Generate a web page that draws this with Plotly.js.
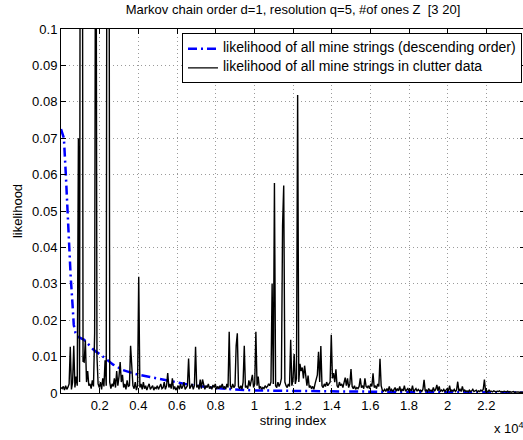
<!DOCTYPE html>
<html>
<head>
<meta charset="utf-8">
<script src="https://cdn.plot.ly/plotly-3.0.1.min.js"></script>
<style>
html,body{margin:0;padding:0;overflow:hidden;background:#fff;}
#chart{width:530px;height:440px;}
</style>
</head>
<body>
<div id="chart"></div>
<script>
// ---- data ----
const titleText = "Markov chain order d=1, resolution q=5, #of ones Z\u00a0\u00a0[3 20]";
const xTitle = "string index";
const yTitle = "likelihood";
const seriesNames = ["likelihood of all mine strings (descending order)", "likelihood of all mine strings in clutter data"];

// mine strings sorted in descending order (string index, likelihood)
const mineIdx = [0, 150, 250, 350, 500, 600, 660, 750, 850, 1200, 1700, 2200, 2700, 3200, 3800, 4600, 5500, 6700, 7600, 8600, 10000, 12000, 15000, 18000, 21000, 24000];
const mineVal = [0.0725, 0.070, 0.060, 0.047, 0.032, 0.024, 0.0187, 0.0165, 0.0155, 0.0146, 0.0118, 0.0099, 0.0078, 0.0063, 0.0053, 0.0044, 0.0034, 0.0022, 0.0016, 0.0011, 0.0007, 0.0005, 0.0004, 0.0003, 0.0002, 0.0001];

// clutter data likelihood, sampled every 60 string indices
const clutterStep = 60;
const clutterVal = [
0.0015,0.0012,0.0018,0.0008,0.0020,0.0010,0.0016,0.0025,0.0127,0.0010,0.0030,0.0130,0.0015,0.0045,0.0020,0.0700,0.0030,0.2500,0.2500,0.0087,
0.0085,0.0144,0.0030,0.0060,0.0020,0.0025,0.0012,0.0035,0.0018,0.0164,0.1800,0.0100,0.0025,0.0015,0.0030,0.0010,0.0040,0.0018,0.0090,0.0020,
0.2500,0.2500,0.0030,0.0012,0.0025,0.0018,0.0040,0.0015,0.0060,0.0020,0.0045,0.0085,0.0030,0.0050,0.0015,0.0025,0.0010,0.0035,0.0018,0.0020,
0.0130,0.0085,0.0020,0.0012,0.0030,0.0008,0.0020,0.0319,0.0015,0.0025,0.0010,0.0030,0.0012,0.0020,0.0008,0.0018,0.0025,0.0010,0.0015,0.0020,
0.0008,0.0015,0.0012,0.0020,0.0010,0.0018,0.0025,0.0012,0.0015,0.0030,0.0010,0.0020,0.0055,0.0015,0.0025,0.0012,0.0040,0.0010,0.0018,0.0008,
0.0015,0.0020,0.0010,0.0025,0.0012,0.0018,0.0030,0.0010,0.0015,0.0020,0.0095,0.0012,0.0018,0.0025,0.0010,0.0020,0.0127,0.0015,0.0022,0.0010,
0.0037,0.0012,0.0037,0.0018,0.0010,0.0020,0.0015,0.0025,0.0012,0.0018,0.0010,0.0022,0.0015,0.0025,0.0010,0.0018,0.0012,0.0020,0.0015,0.0025,
0.0012,0.0018,0.0010,0.0025,0.0015,0.0168,0.0020,0.0012,0.0025,0.0015,0.0020,0.0130,0.0164,0.0018,0.0012,0.0020,0.0010,0.0030,0.0130,0.0015,
0.0020,0.0012,0.0035,0.0018,0.0040,0.0050,0.0015,0.0025,0.0168,0.0020,0.0045,0.0012,0.0018,0.0010,0.0015,0.0012,0.0020,0.0015,0.0018,0.0025,
0.0020,0.0030,0.0301,0.0025,0.0577,0.0020,0.0015,0.0030,0.0018,0.0025,0.0040,0.0459,0.0570,0.0030,0.0020,0.0015,0.0025,0.0018,0.0146,0.0020,
0.0035,0.0107,0.0025,0.0040,0.0819,0.0030,0.0080,0.0060,0.0070,0.0040,0.0075,0.0035,0.0020,0.0048,0.0015,0.0020,0.0012,0.0018,0.0010,0.0025,
0.0040,0.0050,0.0113,0.0030,0.0129,0.0020,0.0015,0.0025,0.0018,0.0030,0.0020,0.0025,0.0030,0.0160,0.0040,0.0055,0.0030,0.0065,0.0020,0.0015,
0.0030,0.0020,0.0025,0.0015,0.0035,0.0042,0.0020,0.0040,0.0015,0.0025,0.0066,0.0018,0.0012,0.0020,0.0010,0.0015,0.0012,0.0018,0.0040,0.0015,
0.0020,0.0012,0.0040,0.0018,0.0015,0.0020,0.0012,0.0025,0.0018,0.0054,0.0015,0.0020,0.0012,0.0025,0.0018,0.0094,0.0020,0.0008,0.0005,0.0010,
0.0004,0.0012,0.0006,0.0018,0.0005,0.0010,0.0004,0.0008,0.0015,0.0005,0.0012,0.0006,0.0018,0.0004,0.0010,0.0006,0.0020,0.0005,0.0008,0.0012,
0.0005,0.0010,0.0006,0.0020,0.0004,0.0008,0.0012,0.0005,0.0010,0.0006,0.0008,0.0004,0.0010,0.0036,0.0005,0.0008,0.0004,0.0012,0.0006,0.0008,
0.0004,0.0015,0.0005,0.0010,0.0022,0.0006,0.0018,0.0004,0.0008,0.0005,0.0010,0.0004,0.0008,0.0012,0.0005,0.0020,0.0004,0.0008,0.0005,0.0010,
0.0004,0.0008,0.0031,0.0005,0.0010,0.0004,0.0018,0.0005,0.0008,0.0004,0.0006,0.0003,0.0008,0.0004,0.0006,0.0010,0.0004,0.0005,0.0008,0.0003,
0.0006,0.0004,0.0008,0.0005,0.0010,0.0037,0.0004,0.0006,0.0003,0.0008,0.0004,0.0005,0.0003,0.0006,0.0004,0.0003,0.0005,0.0004,0.0006,0.0003,
0.0004,0.0003,0.0005,0.0004,0.0003,0.0005,0.0003,0.0004,0.0002,0.0003,0.0004,0.0002,0.0003,0.0002,0.0003,0.0002,0.0003,0.0002,0.0002,0.0002
];

const xTickVals = [2000, 4000, 6000, 8000, 10000, 12000, 14000, 16000, 18000, 20000, 22000, 24000];
const xTickText = ["0.2", "0.4", "0.6", "0.8", "1", "1.2", "1.4", "1.6", "1.8", "2", "2.2", "2.4"];
const yTickVals = [0, 0.01, 0.02, 0.03, 0.04, 0.05, 0.06, 0.07, 0.08, 0.09, 0.1];
const yTickText = ["0", "0.01", "0.02", "0.03", "0.04", "0.05", "0.06", "0.07", "0.08", "0.09", "0.1"];

// ---- build ----
const clutterIdx = clutterVal.map((v, i) => i * clutterStep);
const FONT = "Liberation Sans, Arial, Helvetica, sans-serif";
const legendLabel = s => '<span style="font-size:14px">' + s + '</span>';

const traces = [
  {x: mineIdx, y: mineVal, type: "scatter", mode: "lines", name: legendLabel(seriesNames[0]),
   line: {color: "#0000ff", width: 2.5, dash: "9px,4px,2px,4px"}},
  {x: clutterIdx, y: clutterVal, type: "scatter", mode: "lines", name: legendLabel(seriesNames[1]),
   line: {color: "#000000", width: 1.4}}
];

const axisCommon = {
  showline: true, linecolor: "#000", linewidth: 1, mirror: "ticks",
  ticks: "inside", ticklen: 5, tickcolor: "#000", tickwidth: 1,
  showgrid: true, gridcolor: "#9a9a9a", gridwidth: 1, griddash: "1px,3px",
  zeroline: false, tickfont: {family: FONT, size: 13, color: "#000"}
};

const layout = {
  width: 530, height: 440,
  margin: {l: 61, r: 5, t: 29, b: 47},
  paper_bgcolor: "#fff", plot_bgcolor: "#fff",
  font: {family: FONT, size: 13, color: "#000"},
  title: {text: titleText, font: {family: FONT, size: 13, color: "#000"},
          x: 0.5, xref: "paper", y: 1, yref: "container", yanchor: "top", pad: {t: 5}},
  xaxis: Object.assign({}, axisCommon, {
    range: [0, 24000], tickmode: "array", tickvals: xTickVals, ticktext: xTickText,
    title: {text: xTitle, font: {family: FONT, size: 13}, standoff: 4}
  }),
  yaxis: Object.assign({}, axisCommon, {
    range: [0, 0.1], tickmode: "array", tickvals: yTickVals, ticktext: yTickText,
    title: {text: yTitle, font: {family: FONT, size: 13}, standoff: 6}
  }),
  showlegend: true,
  legend: {x: 0.9935, xanchor: "right", y: 0.988, yanchor: "top",
           bgcolor: "#fff", bordercolor: "#000", borderwidth: 1,
           font: {family: FONT, size: 8, color: "#000"}, tracegroupgap: 0},
  annotations: [
    {text: "x 10<sup>4</sup>", xref: "paper", yref: "paper", x: 0.929, y: -0.096, xanchor: "left", yanchor: "middle",
     showarrow: false, font: {family: FONT, size: 13, color: "#000"}}
  ]
};

Plotly.newPlot("chart", traces, layout, {displayModeBar: false, staticPlot: true});
</script>
</body>
</html>
